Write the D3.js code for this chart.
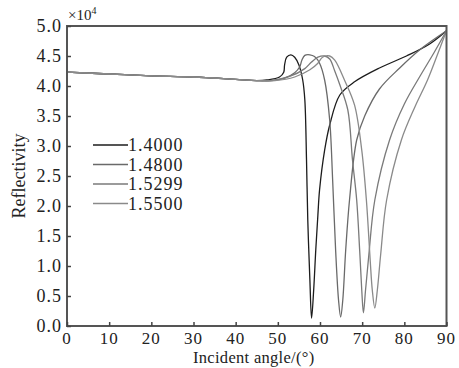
<!DOCTYPE html>
<html>
<head>
<meta charset="utf-8">
<script src="https://cdn.jsdelivr.net/npm/d3@7"></script>
<style>
  body { margin: 0; background: #fff; }
  svg text { font-family: "Liberation Serif", "Times New Roman", "DejaVu Serif", serif; fill: #222; }
</style>
</head>
<body>
<div id="chart"></div>
<script>
const width = 459;
const height = 368;
const margin = { top: 26, right: 12, bottom: 42, left: 67 };

// tick labels
const xTicks = [0, 10, 20, 30, 40, 50, 60, 70, 80, 90];
const yTicks = [0, 0.5, 1, 1.5, 2, 2.5, 3, 3.5, 4, 4.5, 5];

// series: [incident angle, reflectivity x10^4]
const baseline = [[0, 4.23], [10, 4.2], [20, 4.17], [30, 4.15], [40, 4.11], [45, 4.09]];

const n1400 = [
  [47.4, 4.10], [50.4, 4.15], [51.4, 4.23], [51.6, 4.35], [52.1, 4.48], [53.1, 4.52],
  [54.0, 4.48], [55.0, 4.35], [55.9, 4.10], [56.4, 3.77], [56.8, 2.77], [57.1, 1.77],
  [57.6, 0.77], [58.0, 0.13], [58.5, 0.6], [59.0, 1.27], [59.5, 1.85], [59.9, 2.27],
  [61.1, 2.93], [62.3, 3.35], [64.7, 3.85], [68.2, 4.07], [74.1, 4.30], [80.5, 4.50],
  [86.0, 4.70], [90, 4.92]
];
const n1480 = [
  [48.5, 4.09], [51.6, 4.13], [54.0, 4.22], [55.2, 4.32], [55.7, 4.43], [56.4, 4.51],
  [57.6, 4.52], [58.7, 4.49], [59.9, 4.38], [61.1, 4.10], [62.3, 3.43], [63.0, 2.43],
  [63.7, 1.27], [64.4, 0.43], [64.9, 0.15], [65.4, 0.43], [66.1, 1.27], [67.0, 2.1],
  [68.7, 3.1], [70.6, 3.5], [74.1, 3.95], [78.9, 4.3], [83.6, 4.6], [90, 4.92]
];
const n1529 = [
  [48.0, 4.09], [52.8, 4.16], [56.4, 4.29], [58.0, 4.40], [59.5, 4.48], [61.1, 4.50],
  [62.3, 4.45], [63.5, 4.25], [64.7, 4.02], [66.6, 3.6], [67.7, 2.77], [68.7, 2.1],
  [69.4, 1.27], [69.9, 0.6], [70.3, 0.22], [70.8, 0.6], [71.6, 1.2], [73.0, 2.1],
  [76.5, 3.1], [80.0, 3.7], [83.6, 4.15], [87.0, 4.55], [90, 4.92]
];
const n1550 = [
  [49.3, 4.09], [54.0, 4.15], [57.6, 4.27], [59.5, 4.38], [60.6, 4.48], [62.3, 4.50],
  [63.5, 4.43], [65.8, 4.10], [68.2, 3.68], [69.9, 2.93], [71.0, 2.1], [71.9, 1.1],
  [72.4, 0.6], [73.0, 0.3], [73.6, 0.6], [74.4, 1.2], [75.8, 2.1], [79.3, 3.1],
  [82.5, 3.65], [85.5, 4.1], [88.0, 4.55], [90, 4.92]
];

const seriesNames = ["1.4000", "1.4800", "1.5299", "1.5500"];
const seriesData = [n1400, n1480, n1529, n1550];
const seriesColors = ["#1c1c1c", "#6a6a6a", "#7a7a7a", "#8a8a8a"];

const svg = d3.select("#chart").append("svg")
  .attr("width", width)
  .attr("height", height)
  .attr("font-family", "'Liberation Serif', 'Times New Roman', serif");

const x = d3.scaleLinear().domain([0, 90]).range([margin.left, width - margin.right - 0.5]);
const y = d3.scaleLinear().domain([0, 5]).range([height - margin.bottom, margin.top]);

const line = d3.line()
  .x(d => x(d[0]))
  .y(d => y(d[1]))
  .curve(d3.curveCatmullRom.alpha(0.5));

// curves
seriesData.forEach((s, i) => {
  svg.append("path")
    .datum(baseline.concat(s))
    .attr("fill", "none")
    .attr("stroke", seriesColors[i])
    .attr("stroke-width", 1.3)
    .attr("d", line);
});

// frame
svg.append("rect")
  .attr("x", x(0)).attr("y", y(5))
  .attr("width", x(90) - x(0)).attr("height", y(0) - y(5))
  .attr("fill", "none").attr("stroke", "#555").attr("stroke-width", 2);

// axes with inward ticks
svg.append("g")
  .attr("transform", `translate(0,${y(0)})`)
  .call(d3.axisTop(x).tickValues(xTicks).tickSize(4).tickFormat(""));
svg.append("g")
  .attr("transform", `translate(${x(0)},0)`)
  .call(d3.axisRight(y).tickValues(yTicks).tickSize(4).tickFormat(""));
svg.selectAll(".domain").remove();
svg.selectAll(".tick line").attr("stroke", "#444").attr("stroke-width", 1.5);

svg.selectAll(".xlab").data(xTicks).join("text")
  .attr("x", d => x(d))
  .attr("y", y(0) + 18)
  .attr("text-anchor", "middle")
  .attr("font-size", 17)
  .attr("letter-spacing", 1)
  .text(d => d);

svg.selectAll(".ylab").data(yTicks).join("text")
  .attr("x", x(0) - 5)
  .attr("y", d => y(d) + 6)
  .attr("text-anchor", "end")
  .attr("font-size", 18)
  .attr("letter-spacing", 1)
  .text(d => d.toFixed(1));

// exponent
const ex = svg.append("text")
  .attr("x", x(0) + 1).attr("y", y(5) - 6)
  .attr("font-size", 15);
ex.append("tspan").text("×10");
ex.append("tspan").attr("dy", -6).attr("font-size", 10).text("4");

// axis titles
svg.append("text")
  .attr("x", (x(0) + x(90)) / 2 - 3)
  .attr("y", height - 5)
  .attr("text-anchor", "middle")
  .attr("font-size", 16.5)
  .attr("letter-spacing", 0.3)
  .text("Incident angle/(°)");

svg.append("text")
  .attr("transform", `translate(25,${(y(0) + y(5)) / 2}) rotate(-90)`)
  .attr("text-anchor", "middle")
  .attr("font-size", 18)
  .text("Reflectivity");

// legend
const legend = svg.append("g");
seriesNames.forEach((name, i) => {
  const ly = 145 + i * 19.5;
  legend.append("line")
    .attr("x1", 93).attr("x2", 128)
    .attr("y1", ly).attr("y2", ly)
    .attr("stroke", seriesColors[i]).attr("stroke-width", 1.5);
  legend.append("text")
    .attr("x", 128).attr("y", ly + 6)
    .attr("font-size", 18)
    .attr("letter-spacing", 1)
    .text(name);
});
</script>
</body>
</html>
